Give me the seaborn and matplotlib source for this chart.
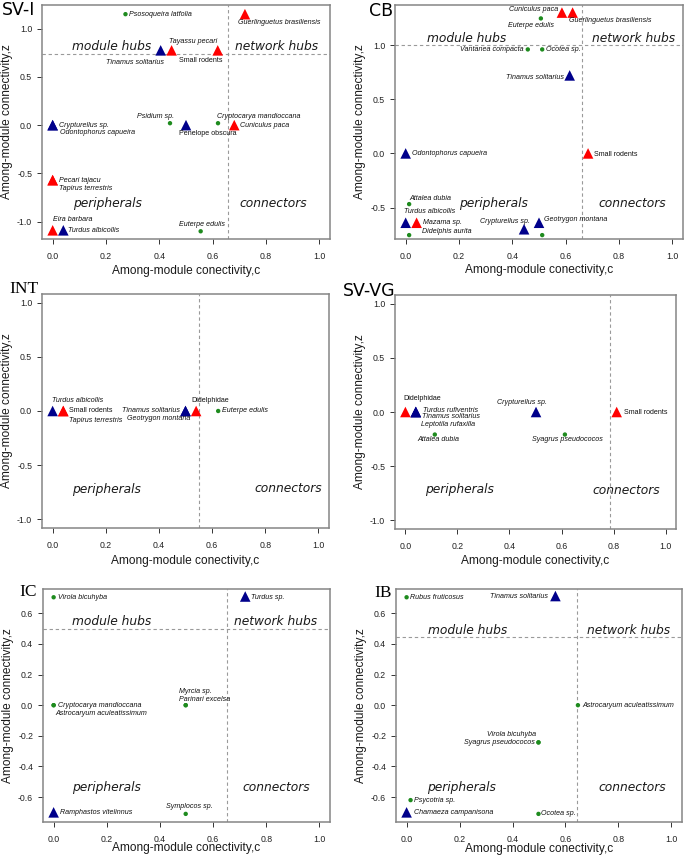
import numpy as np
import pandas as pd
import matplotlib
matplotlib.use("Agg")
import matplotlib.pyplot as plt
import seaborn as sns

# ------------------------------------------------------------------
# data (c = among-module connectivity, z = within-module connectivity)
# ------------------------------------------------------------------
SVI_SPECIES = ["Psosoqueira latfolia", "Guerlinguetus brasiliensis", "Tinamus solitarius",
               "Tayassu pecari", "Small rodents", "Crypturellus sp.", "Odontophorus capueira",
               "Psidium sp.", "Penelope obscura", "Cryptocarya mandioccana", "Cuniculus paca",
               "Pecari tajacu", "Tapirus terrestris", "Eira barbara", "Turdus albicollis",
               "Euterpe edulis"]
SVI_C = [0.273, 0.721, 0.405, 0.446, 0.619, 0.0, 0.0, 0.44, 0.50, 0.62, 0.681,
         0.0, 0.0, 0.0, 0.04, 0.555]
SVI_Z = [1.15, 1.15, 0.775, 0.775, 0.775, 0.0, 0.0, 0.02, 0.0, 0.02, 0.0,
         -0.57, -0.57, -1.09, -1.09, -1.10]
SVI_KIND = ["plant", "mammal", "bird", "mammal", "mammal", "bird", "bird", "plant", "bird",
            "plant", "mammal", "mammal", "mammal", "mammal", "bird", "plant"]

CB_SPECIES = ["Cuniculus paca", "Guerlinguetus brasiliensis", "Euterpe edulis",
              "Vantanea compacta", "Ocotea sp.", "Tinamus solitarius", "Odontophorus capueira",
              "Small rodents", "Attalea dubia", "Turdus albicollis", "Mazama sp.",
              "Didelphis aurita", "Crypturellus sp.", "Geotrygon montana", ""]
CB_C = [0.586, 0.626, 0.507, 0.458, 0.512, 0.615, 0.0, 0.684, 0.013, 0.0, 0.041,
        0.013, 0.444, 0.50, 0.512]
CB_Z = [1.30, 1.30, 1.246, 0.96, 0.96, 0.72, 0.0, 0.0, -0.468, -0.64, -0.64,
        -0.754, -0.70, -0.64, -0.754]
CB_KIND = ["mammal", "mammal", "plant", "plant", "plant", "bird", "bird", "mammal", "plant",
           "bird", "mammal", "plant", "bird", "bird", "plant"]

INT_SPECIES = ["Turdus albicollis", "Small rodents", "Tapirus terrestris", "Tinamus solitarius",
               "Geotrygon montana", "Didelphidae", "Euterpe edulis"]
INT_C = [0.0, 0.04, 0.04, 0.50, 0.50, 0.54, 0.623]
INT_Z = [0.0, 0.0, 0.0, 0.0, 0.0, 0.0, 0.0]
INT_KIND = ["bird", "mammal", "mammal", "bird", "bird", "mammal", "plant"]

SVVG_SPECIES = ["Didelphidae", "Turdus rufiventris", "Tinamus solitarius", "Leptotila rufaxilla",
                "Attalea dubia", "Crypturellus sp.", "Syagrus pseudococos", "Small rodents"]
SVVG_C = [0.0, 0.04, 0.04, 0.04, 0.113, 0.502, 0.613, 0.812]
SVVG_Z = [0.0, 0.0, 0.0, 0.0, -0.208, 0.0, -0.208, 0.0]
SVVG_KIND = ["mammal", "bird", "bird", "bird", "plant", "bird", "plant", "mammal"]

IC_SPECIES = ["Virola bicuhyba", "Turdus sp.", "Cryptocarya mandioccana",
              "Astrocaryum aculeatissimum", "Myrcia sp.", "Parinari excelsa",
              "Ramphastos vitelinnus", "Symplocos sp."]
IC_C = [0.0, 0.721, 0.0, 0.0, 0.497, 0.497, 0.0, 0.497]
IC_Z = [0.705, 0.71, 0.0, 0.0, 0.0, 0.0, -0.70, -0.71]
IC_KIND = ["plant", "bird", "plant", "plant", "plant", "plant", "bird", "plant"]

IB_SPECIES = ["Rubus fruticosus", "Tinamus solitarius", "Astrocaryum aculeatissimum",
              "Virola bicuhyba", "Syagrus pseudococos", "Psycotria sp.",
              "Chamaeza campanisona", "Ocotea sp."]
IB_C = [0.0, 0.562, 0.647, 0.498, 0.498, 0.015, 0.0, 0.498]
IB_Z = [0.705, 0.713, 0.0, -0.243, -0.243, -0.62, -0.70, -0.71]
IB_KIND = ["plant", "bird", "plant", "plant", "plant", "plant", "bird", "plant"]

# role thresholds per network (z threshold, c threshold)
THRESH = {"SV-I": (0.738, 0.658), "CB": (1.0, 0.661), "INT": (None, 0.549),
          "SV-VG": (None, 0.787), "IC": (0.50, 0.651), "IB": (0.443, 0.642)}

# ------------------------------------------------------------------
# layout / styling
# ------------------------------------------------------------------
W, H = 685, 857
COLORS = {"mammal": "#FF0000", "bird": "#00008B", "plant": "#1E8B1E"}
MARKERS = {"mammal": "^", "bird": "^", "plant": "o"}
SIZES = {"mammal": 58, "bird": 58, "plant": 10}
UPRIGHT = {"Small rodents", "Penelope obscura", "Didelphidae"}
PX = 0.72  # points per pixel at dpi 100

# label offsets in pixels (dx, dy, ha)
LABEL_POS = {
    "SV-I": {
        "Psosoqueira latfolia": (4, 0, "left"), "Guerlinguetus brasiliensis": (-7, -8, "left"),
        "Tinamus solitarius": (3, -12, "right"), "Tayassu pecari": (-3, 9, "left"),
        "Small rodents": (5, -10, "right"), "Crypturellus sp.": (6, 0, "left"),
        "Odontophorus capueira": (7, -7, "left"), "Psidium sp.": (4, 7, "right"),
        "Penelope obscura": (-7, -8, "left"), "Cryptocarya mandioccana": (-1, 7, "left"),
        "Cuniculus paca": (6, 0, "left"), "Pecari tajacu": (6, 0, "left"),
        "Tapirus terrestris": (6, -8, "left"), "Eira barbara": (0, 11, "left"),
        "Turdus albicollis": (5, 0, "left"), "Euterpe edulis": (1, 7, "center")},
    "CB": {
        "Cuniculus paca": (-4, 3, "right"), "Guerlinguetus brasiliensis": (-4, -8, "left"),
        "Euterpe edulis": (-10, -7, "center"), "Vantanea compacta": (-4, 0, "right"),
        "Ocotea sp.": (4, 0, "left"), "Tinamus solitarius": (-6, -2, "right"),
        "Odontophorus capueira": (6, 0, "left"), "Small rodents": (6, -1, "left"),
        "Attalea dubia": (0, 6, "left"), "Turdus albicollis": (-2, 11, "left"),
        "Mazama sp.": (6, 0, "left"), "Didelphis aurita": (13, 4, "left"),
        "Crypturellus sp.": (6, 8, "right"), "Geotrygon montana": (5, 3, "left")},
    "INT": {
        "Turdus albicollis": (-1, 10, "left"), "Small rodents": (6, 0, "left"),
        "Tapirus terrestris": (6, -10, "left"), "Tinamus solitarius": (-6, 0, "right"),
        "Geotrygon montana": (5, -8, "right"), "Didelphidae": (-5, 11, "left"),
        "Euterpe edulis": (4, 0, "left")},
    "SV-VG": {
        "Didelphidae": (-2, 13, "left"), "Turdus rufiventris": (7, 2, "left"),
        "Tinamus solitarius": (6, -5, "left"), "Leptotila rufaxilla": (5, -12, "left"),
        "Attalea dubia": (4, -5, "center"), "Crypturellus sp.": (11, 10, "right"),
        "Syagrus pseudococos": (3, -5, "center"), "Small rodents": (7, 0, "left")},
    "IC": {
        "Virola bicuhyba": (4, 0, "left"), "Turdus sp.": (6, -1, "left"),
        "Cryptocarya mandioccana": (4, 0, "left"), "Astrocaryum aculeatissimum": (2, -8, "left"),
        "Myrcia sp.": (-7, 14, "left"), "Parinari excelsa": (-7, 6, "left"),
        "Ramphastos vitelinnus": (6, 0, "left"), "Symplocos sp.": (4, 7, "center")},
    "IB": {
        "Rubus fruticosus": (3, 0, "left"), "Tinamus solitarius": (-7, 0, "right"),
        "Astrocaryum aculeatissimum": (4, 0, "left"), "Virola bicuhyba": (-2, 8, "right"),
        "Syagrus pseudococos": (-4, 0, "right"), "Psycotria sp.": (3, 0, "left"),
        "Chamaeza campanisona": (7, 0, "left"), "Ocotea sp.": (3, 0, "left")},
}

# panel boxes in pixels: left, right, top, bottom
BOXES = {"SV-I": (42, 330, 5, 239), "CB": (395, 683, 5, 239),
         "INT": (42, 329, 294, 528), "SV-VG": (395, 676, 295, 529),
         "IC": (43, 330, 589, 822), "IB": (396, 682, 589, 822)}
YLIMS = {"SV-I": (-1.18, 1.245), "CB": (-0.79, 1.37), "INT": (-1.08, 1.08),
         "SV-VG": (-1.08, 1.08), "IC": (-0.763, 0.759), "IB": (-0.763, 0.759)}
YTICKS = {"SV-I": [-1, -0.5, 0, 0.5, 1], "CB": [-0.5, 0, 0.5, 1],
          "INT": [-1, -0.5, 0, 0.5, 1], "SV-VG": [-1, -0.5, 0, 0.5, 1],
          "IC": [-0.6, -0.4, -0.2, 0, 0.2, 0.4, 0.6], "IB": [-0.6, -0.4, -0.2, 0, 0.2, 0.4, 0.6]}
# quadrant label positions (c, z) for peripherals / connectors, c for hubs labels
QUAD = {"SV-I": ((0.206, -0.816), (0.828, -0.816), 0.22, 0.84),
        "CB": ((0.329, -0.46), (0.85, -0.46), 0.229, 0.856),
        "INT": ((0.203, -0.72), (0.886, -0.72), None, None),
        "SV-VG": ((0.207, -0.72), (0.85, -0.72), None, None),
        "IC": ((0.20, -0.537), (0.838, -0.537), 0.22, 0.836),
        "IB": ((0.208, -0.537), (0.852, -0.537), 0.229, 0.84)}
# title (right edge px, baseline px, family)
TITLES = {"SV-I": (35, 15, "DejaVu Sans"), "CB": (393, 16, "DejaVu Sans"),
          "INT": (38, 293, "Liberation Serif"), "SV-VG": (395, 296, "DejaVu Sans"),
          "IC": (37, 596, "Liberation Serif"), "IB": (392, 597, "Liberation Serif")}
XLAB_DIST = {"SV-I": 32, "CB": 31, "INT": 33, "SV-VG": 32, "IC": 26, "IB": 27}

DATA = {"SV-I": (SVI_SPECIES, SVI_C, SVI_Z, SVI_KIND),
        "CB": (CB_SPECIES, CB_C, CB_Z, CB_KIND),
        "INT": (INT_SPECIES, INT_C, INT_Z, INT_KIND),
        "SV-VG": (SVVG_SPECIES, SVVG_C, SVVG_Z, SVVG_KIND),
        "IC": (IC_SPECIES, IC_C, IC_Z, IC_KIND),
        "IB": (IB_SPECIES, IB_C, IB_Z, IB_KIND)}

sns.set_style("ticks")
plt.rcParams["font.family"] = ["Liberation Sans", "DejaVu Sans"]
plt.rcParams["axes.unicode_minus"] = True

fig = plt.figure(figsize=(W / 100, H / 100), dpi=100)


def quad_text(ax, label, x, y, dy=0):
    ax.annotate(label, (x, y), xytext=(0, dy * PX), textcoords="offset points",
                ha="center", va="center", fontsize=8.8, fontstyle="italic",
                family="DejaVu Sans", color="#1a1a1a", zorder=2)


for name, (species, c, z, kind) in DATA.items():
    l, r, t, b = BOXES[name]
    ax = fig.add_axes([l / W, 1 - b / H, (r - l) / W, (b - t) / H])
    df = pd.DataFrame({"species": species, "c": c, "z": z, "kind": kind})

    h_line, v_line = THRESH[name]
    if h_line is not None:
        ax.axhline(h_line, color="#9a9a9a", lw=0.8, ls=(0, (3, 2.5)), zorder=1)
    ax.axvline(v_line, color="#9a9a9a", lw=0.8, ls=(0, (3, 2.5)), zorder=1)

    sns.scatterplot(data=df, x="c", y="z", hue="kind", style="kind", size="kind",
                    palette=COLORS, markers=MARKERS, sizes=SIZES, linewidth=0,
                    legend=False, ax=ax, zorder=3)

    for sp, cx, zy in zip(species, c, z):
        if not sp:
            continue
        dx, dy, ha = LABEL_POS[name][sp]
        ax.annotate(sp, (cx, zy), xytext=(dx * PX, dy * PX), textcoords="offset points",
                    ha=ha, va="center", fontsize=5.1,
                    fontstyle="normal" if sp in UPRIGHT else "italic",
                    color="#111111", zorder=4)

    per, con, mh, nh = QUAD[name]
    quad_text(ax, "peripherals", *per)
    quad_text(ax, "connectors", *con)
    if mh is not None:
        quad_text(ax, "module hubs", mh, h_line, dy=7)
        quad_text(ax, "network hubs", nh, h_line, dy=7)

    ax.set_xlim(-0.04, 1.04)
    ax.set_ylim(*YLIMS[name])
    ax.set_xticks(np.arange(0, 1.01, 0.2))
    ax.set_yticks(YTICKS[name])
    ax.xaxis.set_major_formatter(matplotlib.ticker.FormatStrFormatter("%.1f"))
    ax.yaxis.set_major_formatter(matplotlib.ticker.FormatStrFormatter("%.1f"))
    ax.tick_params(length=3.6, width=0.7, color="#333333", labelsize=6.3,
                   labelcolor="#222222")
    ax.tick_params(axis="x", pad=5.5)
    ax.tick_params(axis="y", pad=3.5)
    for s in ax.spines.values():
        s.set_color("#858585")
        s.set_linewidth(1.1)

    ax.set_xlabel("Among-module conectivity,c", fontsize=8.6, color="#1a1a1a")
    ax.set_ylabel("Among-module connectivity,z", fontsize=8.6, color="#1a1a1a")
    ax.xaxis.label.set_va("center")
    ax.yaxis.label.set_va("center")
    ax.xaxis.set_label_coords(0.5, -XLAB_DIST[name] / (b - t))
    ax.yaxis.set_label_coords(-35 / (r - l), 0.5)

    tx, ty, fam = TITLES[name]
    fig.text(tx / W, 1 - ty / H, name, ha="right", va="baseline", fontsize=12.5,
             family=fam, color="black")

fig.savefig("out.png", dpi=100)
